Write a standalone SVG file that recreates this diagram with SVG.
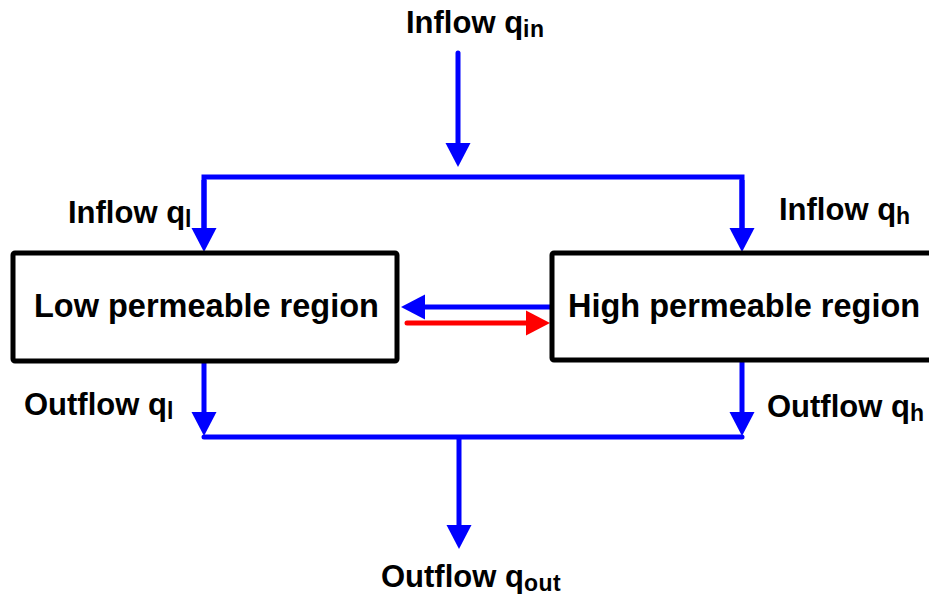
<svg xmlns="http://www.w3.org/2000/svg" width="929" height="599" viewBox="0 0 929 599">
<style>
.t{font-family:"Liberation Sans",Arial,sans-serif;font-weight:bold;font-size:31px;fill:#000}
.bt{font-size:32.5px}
.s{font-size:23px;letter-spacing:0.5px}
.box{fill:#fff;stroke:#000;stroke-width:5}
.b{stroke:#0000ff;stroke-width:5;fill:none}
.r{stroke:#ff0000;stroke-width:5;fill:none}
</style>
<defs>
<marker id="ab" markerUnits="userSpaceOnUse" markerWidth="24" markerHeight="25" refX="1" refY="12.5" orient="auto" overflow="visible">
<path d="M0,0 L24,12.5 L0,25 Z" fill="#0000ff"/>
</marker>
<marker id="ar" markerUnits="userSpaceOnUse" markerWidth="24" markerHeight="25" refX="1" refY="12.5" orient="auto" overflow="visible">
<path d="M0,0 L24,12.5 L0,25 Z" fill="#ff0000"/>
</marker>
</defs>
<rect width="929" height="599" fill="#fff"/>
<g id="connectors">
<line class="b" x1="458" y1="53" x2="458" y2="144" stroke-linecap="round" marker-end="url(#ab)"/>
<polyline class="b" points="204,229 204,177 742,177 742,229" stroke-linejoin="miter"/>
<line class="b" x1="204" y1="180" x2="204" y2="229" marker-end="url(#ab)"/>
<line class="b" x1="742" y1="180" x2="742" y2="229" marker-end="url(#ab)"/>
<line class="b" x1="204" y1="362" x2="204" y2="413" stroke-linecap="round" marker-end="url(#ab)"/>
<line class="b" x1="742" y1="360" x2="742" y2="413" stroke-linecap="round" marker-end="url(#ab)"/>
<line class="b" x1="204" y1="437" x2="742" y2="437" stroke-linecap="round"/>
<line class="b" x1="459" y1="437" x2="459" y2="526" marker-end="url(#ab)"/>
<line class="b" x1="552" y1="307" x2="424" y2="307" stroke-linecap="round" marker-end="url(#ab)"/>
<line class="r" x1="407" y1="323" x2="527" y2="323" stroke-linecap="round" marker-end="url(#ar)"/>
</g>
<g id="low-region">
<rect class="box" x="13" y="253" width="384" height="108" rx="2"/>
<text class="t bt" x="34" y="317">Low permeable region</text>
</g>
<g id="high-region">
<rect class="box" x="552" y="253" width="400" height="107" rx="2"/>
<text class="t bt" x="568" y="317">High permeable region</text>
</g>
<g id="labels">
<text class="t" x="406" y="33">Inflow q<tspan class="s" dy="4">in</tspan></text>
<text class="t" x="68" y="223">Inflow q<tspan class="s" dy="4">l</tspan></text>
<text class="t" x="779" y="220">Inflow q<tspan class="s" dy="4">h</tspan></text>
<text class="t" x="24" y="415">Outflow q<tspan class="s" dy="4">l</tspan></text>
<text class="t" x="767" y="417">Outflow q<tspan class="s" dy="4">h</tspan></text>
<text class="t" x="381" y="587">Outflow q<tspan class="s" dy="4">out</tspan></text>
</g>
</svg>
